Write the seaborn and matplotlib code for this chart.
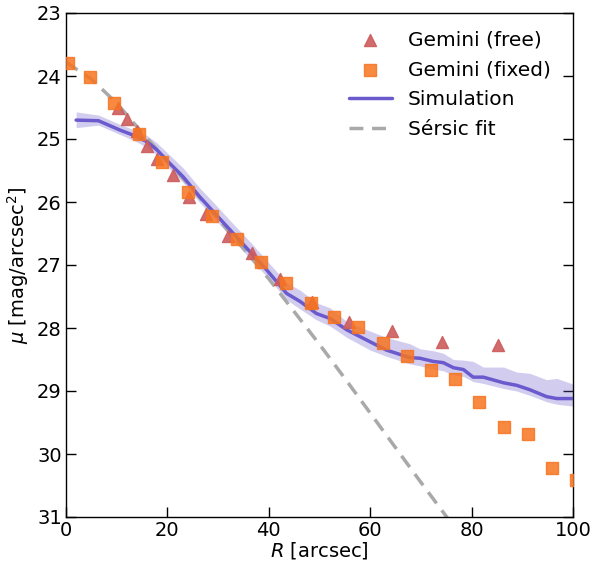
import numpy as np
import pandas as pd
import matplotlib
matplotlib.use("Agg")
import matplotlib.pyplot as plt
import seaborn as sns

# Gemini (free) - triangoli
free_r = [10.3, 12.0, 14.0, 16.0, 17.9, 21.1, 24.3, 27.6, 32.0, 36.7, 42.2, 48.5, 55.8, 64.3, 74.2, 85.2]
free_mu = [24.51, 24.68, 24.87, 25.11, 25.32, 25.57, 25.92, 26.19, 26.54, 26.81, 27.22, 27.59, 27.90, 28.05, 28.22, 28.27]

# Gemini (fixed) - quadrati
fixed_r = [0.3, 4.7, 9.5, 14.3, 18.9, 24.1, 28.7, 33.7, 38.5, 43.4, 48.3, 52.9, 57.5, 62.5, 67.2,
           71.9, 76.7, 81.5, 86.4, 91.2, 95.9, 100.6]
fixed_mu = [23.80, 24.02, 24.43, 24.92, 25.36, 25.84, 26.22, 26.59, 26.95, 27.29, 27.60, 27.83, 27.98, 28.24, 28.45,
            28.67, 28.81, 29.17, 29.57, 29.69, 30.23, 30.41]

# Simulazione (linea + banda)
sim_r = [2.0, 6.4, 10.7, 13.3, 15.9, 17.9, 20.5, 23.1, 26.4, 29.7, 33.0, 36.3, 39.6, 43.5, 46.2, 49.4, 52.1,
         55.4, 60.0, 63.2, 67.8, 69.8, 72.4, 74.4, 76.4, 78.4, 80.3, 82.3, 86.3, 88.9, 91.5, 94.8, 96.8, 100.0]
sim_mu = [24.70, 24.71, 24.86, 24.94, 25.04, 25.17, 25.39, 25.60, 25.92, 26.21, 26.50, 26.79, 27.08, 27.45, 27.58,
          27.77, 27.85, 28.03, 28.22, 28.35, 28.47, 28.48, 28.53, 28.55, 28.63, 28.66, 28.78, 28.78, 28.87, 28.91,
          28.98, 29.09, 29.12, 29.12]
sim_lo = [24.57, 24.62, 24.77, 24.85, 24.94, 25.06, 25.26, 25.46, 25.78, 26.06, 26.35, 26.63, 26.93, 27.28, 27.40,
          27.60, 27.68, 27.90, 28.05, 28.15, 28.25, 28.33, 28.36, 28.40, 28.50, 28.51, 28.53, 28.62, 28.62, 28.70,
          28.72, 28.82, 28.80, 28.89]
sim_hi = [24.82, 24.78, 24.93, 25.02, 25.13, 25.26, 25.48, 25.69, 26.01, 26.30, 26.60, 26.90, 27.18, 27.55, 27.70,
          27.87, 27.97, 28.15, 28.35, 28.45, 28.57, 28.60, 28.65, 28.68, 28.74, 28.77, 28.85, 28.88, 28.96, 29.00,
          29.07, 29.17, 29.21, 29.24]

# Fit di Sérsic
sersic_r = [0, 5, 10, 15, 20, 25, 30, 35, 40, 45, 50, 55, 60, 65, 70, 75.1, 76.5]
sersic_mu = [23.78, 24.05, 24.43, 24.90, 25.35, 25.80, 26.27, 26.74, 27.22, 27.74, 28.26, 28.80, 29.35, 29.90,
             30.45, 31.0, 31.15]

df_free = pd.DataFrame({"R": free_r, "mu": free_mu})
df_fixed = pd.DataFrame({"R": fixed_r, "mu": fixed_mu})
df_sim = pd.DataFrame({"R": sim_r, "mu": sim_mu, "lo": sim_lo, "hi": sim_hi})
df_sersic = pd.DataFrame({"R": sersic_r, "mu": sersic_mu})

sns.set_style("ticks", {"axes.edgecolor": "black", "text.color": "black", "xtick.color": "black",
                        "ytick.color": "black", "axes.labelcolor": "black"})
plt.rcParams["font.family"] = ["DejaVu Sans"]
plt.rcParams["mathtext.fontset"] = "dejavusans"

fig = plt.figure(figsize=(5.93, 5.63), dpi=100)
ax = fig.add_axes([66 / 593, 1 - 517 / 563, (573 - 66) / 593, (517 - 13) / 563])

ax.fill_between(df_sim["R"], df_sim["lo"], df_sim["hi"], color="slateblue", alpha=0.3, lw=0, zorder=1)
sns.lineplot(data=df_sim, x="R", y="mu", ax=ax, color="slateblue", lw=2.5, label="Simulation", zorder=3,
             sort=False)
sns.lineplot(data=df_sersic, x="R", y="mu", ax=ax, color="darkgray", lw=2.5, dashes=(4, 2.5),
             label="Sérsic fit", zorder=2, sort=False)
sns.scatterplot(data=df_free, x="R", y="mu", ax=ax, marker="^", color="indianred", s=75, alpha=0.9,
                edgecolor="indianred", linewidth=1, label="Gemini (free)", zorder=4)
sns.scatterplot(data=df_fixed, x="R", y="mu", ax=ax, marker="s", color="#f77420", s=70, alpha=0.85,
                edgecolor="#f77420", linewidth=1, label="Gemini (fixed)", zorder=5)

ax.set_xlim(0, 100)
ax.set_ylim(31, 23)
ax.set_xticks([0, 20, 40, 60, 80, 100])
ax.set_yticks(range(23, 32))
ax.set_xlabel("$R$ [arcsec]", fontsize=14, labelpad=0)
ax.set_ylabel(r"$\mu$ [mag/arcsec$^2$]", fontsize=14, labelpad=4)
ax.tick_params(axis="both", direction="in", length=7, width=1.0, labelsize=14, pad=3)
ax.tick_params(axis="y", right=True)
for s in ax.spines.values():
    s.set_linewidth(1.0)

handles, labels = ax.get_legend_handles_labels()
order = [labels.index(l) for l in ["Gemini (free)", "Gemini (fixed)", "Simulation", "Sérsic fit"]]
ax.legend([handles[i] for i in order], [labels[i] for i in order], loc="upper right", frameon=False,
          fontsize=14.5, scatterpoints=1, handlelength=2.15, handletextpad=0.8, borderaxespad=0.45,
          bbox_to_anchor=(0.99, 1.0), labelspacing=0.55)

fig.savefig("out.png", dpi=100)
